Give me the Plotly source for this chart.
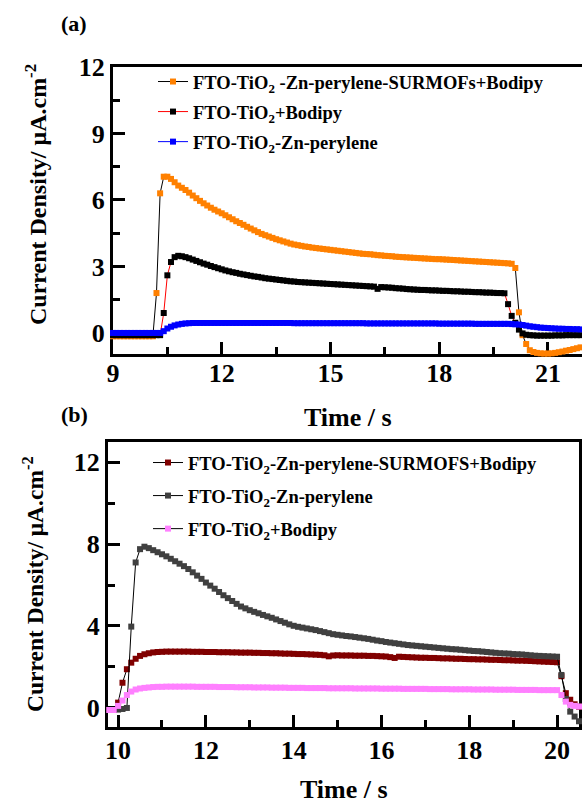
import numpy as np
import plotly.graph_objects as go

# ---------------- Panel (a) data ----------------
time_a = np.round(np.arange(9.0, 21.95, 0.1), 1)

surmof_bodipy_a = [
    -0.15, -0.15, -0.15, -0.15, -0.15, -0.15, -0.15, -0.15, -0.15, -0.15, -0.15, -0.15,
    1.8, 6.3, 7.05, 7.05, 6.95, 6.8, 6.65, 6.55,
    6.45, 6.33, 6.2, 6.08, 5.96, 5.85, 5.75, 5.65, 5.56, 5.48,
    5.4, 5.31, 5.22, 5.13, 5.04, 4.96, 4.88, 4.79, 4.71, 4.63,
    4.55, 4.47, 4.41, 4.35, 4.29, 4.23, 4.18, 4.13, 4.08, 4.03,
    3.99, 3.96, 3.93, 3.9, 3.88, 3.85, 3.83, 3.81, 3.79, 3.77,
    3.75, 3.73, 3.71, 3.69, 3.67, 3.65, 3.63, 3.61, 3.59, 3.57,
    3.56, 3.55, 3.53, 3.51, 3.5, 3.48, 3.47, 3.46, 3.44, 3.43,
    3.42, 3.41, 3.4, 3.39, 3.38, 3.37, 3.36, 3.35, 3.34, 3.33,
    3.33, 3.32, 3.31, 3.3, 3.29, 3.28, 3.27, 3.26, 3.25, 3.24,
    3.23, 3.22, 3.21, 3.2, 3.19, 3.18, 3.17, 3.16, 3.15, 3.14,
    3.12, 2.93, 0.93, -0.1, -0.5, -0.78, -0.86, -0.9, -0.92, -0.93,
    -0.93, -0.92, -0.9, -0.87, -0.84, -0.8, -0.77, -0.73, -0.69, -0.65,
]

tio2_bodipy_a = [
    -0.1, -0.1, -0.1, -0.1, -0.1, -0.1, -0.1, -0.1, -0.1, -0.1, -0.1, -0.1, -0.1, -0.1,
    0.9, 2.6, 3.2, 3.42, 3.48, 3.46,
    3.42, 3.37, 3.31, 3.25, 3.19, 3.13, 3.08, 3.02, 2.97, 2.92,
    2.87, 2.82, 2.78, 2.74, 2.71, 2.67, 2.64, 2.61, 2.58, 2.55,
    2.53, 2.5, 2.47, 2.45, 2.43, 2.41, 2.39, 2.37, 2.35, 2.33,
    2.32, 2.3, 2.29, 2.28, 2.27, 2.26, 2.25, 2.24, 2.23, 2.22,
    2.21, 2.2, 2.19, 2.18, 2.17, 2.16, 2.15, 2.14, 2.13, 2.12,
    2.11, 2.1, 2.09, 1.99, 2.07, 2.06, 2.05, 2.04, 2.02, 2.01,
    2.0, 1.98, 1.97, 1.96, 1.95, 1.94, 1.94, 1.93, 1.92, 1.92,
    1.91, 1.9, 1.9, 1.89, 1.88, 1.88, 1.87, 1.86, 1.86, 1.85,
    1.84, 1.84, 1.83, 1.82, 1.82, 1.81, 1.8, 1.8, 1.79, 1.3,
    0.77, 0.46, 0.15, -0.02, -0.08, -0.1, -0.11, -0.12, -0.12, -0.12,
    -0.12, -0.12, -0.11, -0.11, -0.11, -0.1, -0.1, -0.1, -0.1, -0.1,
]

zn_perylene_a = [
    0.0, 0.0, 0.0, 0.0, 0.0, 0.0, 0.0, 0.0, 0.0, 0.0, 0.0, 0.0, 0.0, 0.0,
    0.08, 0.2, 0.28, 0.34, 0.38, 0.41,
    0.43, 0.44, 0.45, 0.45, 0.45, 0.45, 0.45, 0.45, 0.45, 0.45,
    0.45, 0.45, 0.45, 0.45, 0.45, 0.45, 0.45, 0.45, 0.45, 0.45,
    0.45, 0.45, 0.45, 0.45, 0.45, 0.45, 0.45, 0.45, 0.45, 0.45,
    0.44, 0.44, 0.44, 0.44, 0.44, 0.44, 0.44, 0.44, 0.44, 0.44,
    0.44, 0.44, 0.44, 0.44, 0.44, 0.44, 0.44, 0.44, 0.44, 0.44,
    0.43, 0.43, 0.43, 0.43, 0.43, 0.43, 0.43, 0.43, 0.43, 0.43,
    0.43, 0.43, 0.43, 0.43, 0.43, 0.43, 0.43, 0.43, 0.43, 0.43,
    0.42, 0.42, 0.42, 0.42, 0.42, 0.42, 0.42, 0.42, 0.42, 0.42,
    0.41, 0.41, 0.41, 0.41, 0.41, 0.41, 0.41, 0.41, 0.41, 0.41,
    0.4, 0.39, 0.38, 0.36, 0.33, 0.3, 0.28, 0.26, 0.24, 0.23,
    0.22, 0.21, 0.2, 0.19, 0.19, 0.18, 0.18, 0.17, 0.17, 0.16,
]

# ---------------- Panel (b) data ----------------
time_b = np.round(np.arange(9.7, 20.55, 0.1), 1)

surmof_bodipy_b = [
    -0.1, -0.1, -0.1,
    0.26, 1.23, 1.89, 2.21, 2.4, 2.54, 2.62, 2.67, 2.71, 2.73,
    2.74, 2.75, 2.75, 2.75, 2.75, 2.75, 2.75, 2.74, 2.74, 2.74,
    2.73, 2.73, 2.73, 2.72, 2.72, 2.72, 2.71, 2.71, 2.7, 2.7,
    2.7, 2.69, 2.69, 2.68, 2.68, 2.67, 2.67, 2.66, 2.65, 2.65,
    2.64, 2.63, 2.63, 2.62, 2.61, 2.6, 2.59, 2.57, 2.52, 2.56,
    2.57, 2.56, 2.56, 2.56, 2.55, 2.55, 2.55, 2.54, 2.54, 2.53,
    2.52, 2.51, 2.48, 2.44, 2.5, 2.49, 2.48, 2.47, 2.46, 2.45,
    2.45, 2.44, 2.44, 2.43, 2.42, 2.42, 2.41, 2.4, 2.4, 2.39,
    2.38, 2.38, 2.37, 2.37, 2.36, 2.35, 2.35, 2.34, 2.33, 2.33,
    2.32, 2.31, 2.31, 2.3, 2.29, 2.28, 2.27, 2.26, 2.25, 2.24,
    2.23, 1.55, 0.72, 0.4, 0.18, 0.06,
]

zn_perylene_b = [
    -0.1, -0.1, -0.1,
    -0.08, -0.05, 0.0, 3.97, 7.1, 7.75, 7.87, 7.8, 7.7, 7.6,
    7.5, 7.4, 7.28, 7.16, 7.04, 6.92, 6.78, 6.62, 6.46, 6.3,
    6.12, 5.97, 5.82, 5.66, 5.5, 5.36, 5.22, 5.08, 4.95, 4.86,
    4.77, 4.69, 4.62, 4.54, 4.47, 4.4, 4.32, 4.24, 4.16, 4.08,
    4.01, 3.96, 3.92, 3.88, 3.84, 3.8, 3.75, 3.7, 3.65, 3.6,
    3.57, 3.54, 3.51, 3.49, 3.46, 3.43, 3.4, 3.37, 3.33, 3.29,
    3.26, 3.22, 3.19, 3.16, 3.13, 3.1, 3.07, 3.05, 3.03, 3.01,
    2.99, 2.97, 2.95, 2.93, 2.91, 2.89, 2.87, 2.86, 2.84, 2.82,
    2.8, 2.78, 2.77, 2.75, 2.73, 2.71, 2.69, 2.67, 2.66, 2.65,
    2.63, 2.62, 2.61, 2.59, 2.57, 2.55, 2.54, 2.53, 2.52, 2.51,
    2.5, 1.61, 0.44, -0.18, -0.42, -0.65,
]

tio2_bodipy_b = [
    -0.1, -0.1, -0.1,
    0.1, 0.36, 0.63, 0.8, 0.9, 0.95, 0.98, 1.0, 1.02, 1.03,
    1.03, 1.04, 1.04, 1.04, 1.04, 1.04, 1.04, 1.04, 1.03, 1.03,
    1.03, 1.03, 1.03, 1.02, 1.02, 1.02, 1.02, 1.01, 1.01, 1.01,
    1.01, 1.0, 1.0, 1.0, 1.0, 0.99, 0.99, 0.99, 0.99, 0.98,
    0.98, 0.98, 0.98, 0.97, 0.97, 0.97, 0.97, 0.97, 0.96, 0.96,
    0.96, 0.96, 0.96, 0.96, 0.95, 0.95, 0.95, 0.95, 0.95, 0.95,
    0.94, 0.94, 0.94, 0.94, 0.94, 0.93, 0.93, 0.93, 0.93, 0.93,
    0.93, 0.92, 0.92, 0.92, 0.92, 0.92, 0.91, 0.91, 0.91, 0.91,
    0.91, 0.9, 0.9, 0.9, 0.9, 0.9, 0.89, 0.89, 0.89, 0.89,
    0.89, 0.88, 0.88, 0.88, 0.88, 0.88, 0.87, 0.87, 0.87, 0.87,
    0.87, 0.63, 0.31, 0.15, 0.1, 0.07,
]

names_a = [
    "FTO-TiO<sub>2</sub> -Zn-perylene-SURMOFs+Bodipy",
    "FTO-TiO<sub>2</sub>+Bodipy",
    "FTO-TiO<sub>2</sub>-Zn-perylene",
]
names_b = [
    "FTO-TiO<sub>2</sub>-Zn-perylene-SURMOFS+Bodipy",
    "FTO-TiO<sub>2</sub>-Zn-perylene",
    "FTO-TiO<sub>2</sub>+Bodipy",
]

FONT = "Liberation Serif, Times New Roman, serif"
W, H = 582, 804

fig = go.Figure()

series_a = [
    (surmof_bodipy_a, "#FF8000", "#000000"),
    (tio2_bodipy_a, "#000000", "#FF0000"),
    (zn_perylene_a, "#0000FF", "#0000FF"),
]
for i, (vals, mcol, lcol) in enumerate(series_a):
    fig.add_trace(go.Scatter(
        x=time_a, y=vals, mode="lines+markers", name=names_a[i],
        line=dict(color=lcol, width=1),
        marker=dict(symbol="square", size=6, color=mcol, line=dict(width=0)),
        xaxis="x", yaxis="y", legend="legend", legendgroup="a%d" % i,
        cliponaxis=False,
    ))

series_b = [
    (surmof_bodipy_b, "#800000", "#000000"),
    (zn_perylene_b, "#404040", "#000000"),
    (tio2_bodipy_b, "#FF80FF", "#000000"),
]
for i, (vals, mcol, lcol) in enumerate(series_b):
    fig.add_trace(go.Scatter(
        x=time_b, y=vals, mode="lines+markers", name=names_b[i],
        line=dict(color=lcol, width=1),
        marker=dict(symbol="square", size=6, color=mcol, line=dict(width=0)),
        xaxis="x2", yaxis="y2", legend="legend2", legendgroup="b%d" % i,
        cliponaxis=False,
    ))

tickfont = dict(family=FONT, size=26, color="black", weight="bold")
common = dict(
    showgrid=False, zeroline=False, showline=True, linewidth=3, linecolor="black",
    ticks="inside", ticklen=12, tickwidth=2.5, tickcolor="black",
    tickfont=tickfont, automargin=False, layer="below traces",
)

def py(p):
    return 1 - p / H

def px(p):
    return p / W

fig.update_layout(
    width=W, height=H,
    margin=dict(l=0, r=0, t=0, b=0),
    paper_bgcolor="white", plot_bgcolor="white",
    showlegend=True,
    xaxis=dict(domain=[px(113), 1.0], anchor="y", range=[9, 21.94], tick0=9, dtick=3,
               mirror=True, ticklabelstandoff=-6,
               minor=dict(ticks="inside", ticklen=7, tickwidth=2.5, tickcolor="black", dtick=1.5, tick0=9),
               **common),
    yaxis=dict(domain=[py(354), py(67)], anchor="x", range=[-0.95, 12], tick0=0, dtick=3,
               mirror=False,
               minor=dict(ticks="inside", ticklen=7, tickwidth=2.5, tickcolor="black", dtick=1.5, tick0=0),
               **common),
    xaxis2=dict(domain=[px(108), px(579)], anchor="y2", range=[9.77, 20.5], tick0=0, dtick=2,
                mirror=True, ticklabelstandoff=-2,
                minor=dict(ticks="inside", ticklen=7, tickwidth=2.5, tickcolor="black", dtick=1, tick0=0),
                **common),
    yaxis2=dict(domain=[py(727), py(442)], anchor="x2", range=[-0.93, 12.98], tick0=0, dtick=4,
                mirror=True,
                minor=dict(ticks="inside", ticklen=7, tickwidth=2.5, tickcolor="black", dtick=2, tick0=0),
                **common),
    legend=dict(x=px(153), y=py(63), xanchor="left", yanchor="top",
                bgcolor="rgba(0,0,0,0)", borderwidth=0, tracegroupgap=3,
                font=dict(family=FONT, size=18.5, color="black", weight="bold")),
    legend2=dict(x=px(148), y=py(444), xanchor="left", yanchor="top",
                 bgcolor="rgba(0,0,0,0)", borderwidth=0, tracegroupgap=6,
                 font=dict(family=FONT, size=18.5, color="black", weight="bold")),
)

title_font = dict(family=FONT, size=26, color="black", weight="bold")
annotations = [
    dict(text="(a)", x=px(74), y=py(24), font=dict(family=FONT, size=22, color="black", weight="bold")),
    dict(text="(b)", x=px(74), y=py(414), font=dict(family=FONT, size=22, color="black", weight="bold")),
    dict(text="Time / s", x=px(348), y=py(417), font=title_font),
    dict(text="Time / s", x=px(344), y=py(789), font=title_font),
    dict(text="Current Density/ \u03bcA.cm<sup>-2</sup>", x=px(36), y=py(195), textangle=-90,
         font=dict(family=FONT, size=24, color="black", weight="bold")),
    dict(text="Current Density/ \u03bcA.cm<sup>-2</sup>", x=px(33), y=py(584), textangle=-90,
         font=dict(family=FONT, size=23.5, color="black", weight="bold")),
]
for a in annotations:
    a.update(xref="paper", yref="paper", showarrow=False, xanchor="center", yanchor="middle")
fig.update_layout(annotations=annotations)

fig.write_html("out.html")
